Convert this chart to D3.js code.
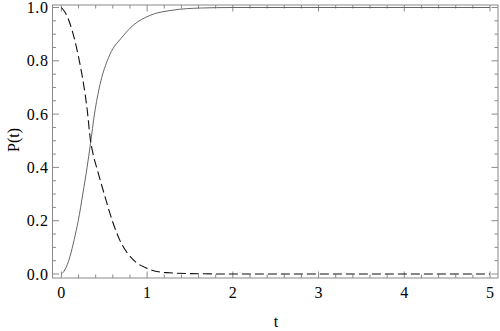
<!DOCTYPE html>
<html>
<head>
<meta charset="utf-8">
<script src="https://cdn.jsdelivr.net/npm/d3@7"></script>
<style>
  body { margin: 0; background: #fff; }
</style>
</head>
<body>
<div id="chart"></div>
<script>
// values
const riseT = [0, 0.04, 0.10, 0.15, 0.197, 0.25, 0.30, 0.34, 0.386, 0.45, 0.535, 0.60, 0.68, 0.84, 1.03, 1.30, 1.62, 2.0, 3.0, 4.0, 5.0];
const riseP = [0, 0.015, 0.065, 0.13, 0.20, 0.30, 0.40, 0.49, 0.60, 0.71, 0.80, 0.845, 0.878, 0.934, 0.97, 0.99, 0.998, 1.0, 1.0, 1.0, 1.0];

const fallT = [0, 0.05, 0.10, 0.15, 0.20, 0.25, 0.30, 0.34, 0.37, 0.42, 0.50, 0.594, 0.68, 0.84, 1.0, 1.23, 1.6, 2.0, 3.0, 4.0, 5.0];
const fallP = [1.0, 0.978, 0.94, 0.885, 0.815, 0.73, 0.62, 0.50, 0.45, 0.39, 0.30, 0.20, 0.128, 0.053, 0.021, 0.005, 0.001, 0, 0, 0, 0];

const xTicks = [0, 1, 2, 3, 4, 5];
const yTicks = [0, 0.2, 0.4, 0.6, 0.8, 1.0];

const width = 500;
const height = 331;
const font = "Liberation Serif";

const svg = d3.select("#chart")
  .append("svg")
  .attr("width", width)
  .attr("height", height);

const x = d3.scaleLinear().domain([-0.1, 5.1]).range([52.8, 498.6]);
const y = d3.scaleLinear().domain([0, 1]).range([274, 7.5]);

const frameL = 52.5, frameR = 498, frameT = 5, frameB = 278;
const frameColor = "#8a8a8a";

// frame
svg.append("rect")
  .attr("x", frameL)
  .attr("y", frameT)
  .attr("width", frameR - frameL)
  .attr("height", frameB - frameT)
  .attr("fill", "none")
  .attr("stroke", frameColor)
  .attr("stroke-width", 1);

// minor / major ticks on all four sides
const xMinor = d3.range(0, 5.01, 0.2).filter(v => xTicks.indexOf(Math.round(v * 10) / 10) < 0);
const yMinor = d3.range(0, 1.001, 0.05).filter(v => yTicks.indexOf(Math.round(v * 100) / 100) < 0);

const ticks = svg.append("g").attr("stroke", frameColor).attr("stroke-width", 1);

xTicks.forEach(v => {
  ticks.append("line").attr("x1", x(v)).attr("x2", x(v)).attr("y1", frameB).attr("y2", frameB - 6.5);
  ticks.append("line").attr("x1", x(v)).attr("x2", x(v)).attr("y1", frameT).attr("y2", frameT + 6.5);
});
xMinor.forEach(v => {
  ticks.append("line").attr("x1", x(v)).attr("x2", x(v)).attr("y1", frameB).attr("y2", frameB - 3.5);
  ticks.append("line").attr("x1", x(v)).attr("x2", x(v)).attr("y1", frameT).attr("y2", frameT + 3.5);
});
yTicks.forEach(v => {
  ticks.append("line").attr("x1", frameL).attr("x2", frameL + 6.5).attr("y1", y(v)).attr("y2", y(v));
  ticks.append("line").attr("x1", frameR).attr("x2", frameR - 6.5).attr("y1", y(v)).attr("y2", y(v));
});
yMinor.forEach(v => {
  ticks.append("line").attr("x1", frameL).attr("x2", frameL + 3.5).attr("y1", y(v)).attr("y2", y(v));
  ticks.append("line").attr("x1", frameR).attr("x2", frameR - 3.5).attr("y1", y(v)).attr("y2", y(v));
});

// tick labels
svg.append("g")
  .selectAll("text")
  .data(xTicks)
  .join("text")
  .attr("x", d => x(d))
  .attr("y", 298)
  .attr("text-anchor", "middle")
  .attr("font-family", font)
  .attr("font-size", 16)
  .text(d => d3.format("d")(d));

svg.append("g")
  .selectAll("text")
  .data(yTicks)
  .join("text")
  .attr("x", 48.5)
  .attr("y", d => y(d) + 5.5)
  .attr("text-anchor", "end")
  .attr("font-family", font)
  .attr("font-size", 16)
  .attr("letter-spacing", 0.6)
  .text(d => d3.format(".1f")(d));

// axis titles
svg.append("text")
  .attr("x", 276)
  .attr("y", 327)
  .attr("text-anchor", "middle")
  .attr("font-family", font)
  .attr("font-size", 16)
  .text("t");

svg.append("text")
  .attr("transform", "translate(19,140) rotate(-90)")
  .attr("text-anchor", "middle")
  .attr("font-family", font)
  .attr("font-size", 16)
  .text("P(t)");

// curves
const line = d3.line()
  .x(d => x(d[0]))
  .y(d => y(d[1]))
  .curve(d3.curveMonotoneX);

svg.append("path")
  .datum(riseT.map((t, i) => [t, riseP[i]]))
  .attr("d", line)
  .attr("fill", "none")
  .attr("stroke", "#555")
  .attr("stroke-width", 0.9);

svg.append("path")
  .datum(fallT.map((t, i) => [t, fallP[i]]))
  .attr("d", line)
  .attr("fill", "none")
  .attr("stroke", "#111")
  .attr("stroke-width", 1.1)
  .attr("stroke-dasharray", "9,4");
</script>
</body>
</html>
